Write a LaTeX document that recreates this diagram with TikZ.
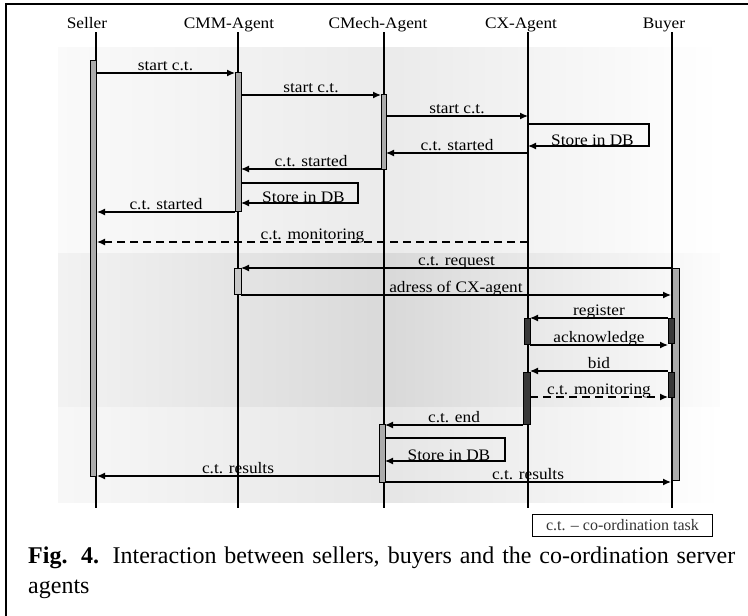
\documentclass[tikz,border=0pt]{standalone}
\usepackage{fontspec}
\setmainfont{Liberation Serif}
\newfontfamily\dfont{Liberation Serif}[FakeStretch=1.08]
\usetikzlibrary{arrows.meta,calc}

% one horizontal message between two lifelines
% #1 name, #2 x start, #3 x end, #4 y, #5 label, #6 extra style
\newcommand\seqmsg[6]{%
  \coordinate (#1-a) at (#2,#4);
  \coordinate (#1-b) at (#3,#4);
  \draw[msg,#6] (#1-a) -- node[lbl] (#1-t) {#5} (#1-b);
}
% self message drawn as an open box returning to the lifeline
% #1 name, #2 x lifeline, #3 x right, #4 y top, #5 y bottom
\newcommand\selfmsg[5]{%
  \coordinate (#1-a) at (#2,#4);
  \coordinate (#1-c) at (#3,#4);
  \coordinate (#1-d) at (#3,#5);
  \coordinate (#1-b) at (#2,#5);
  \draw[msg] (#1-a) -- (#1-c) -- (#1-d) -- (#1-b);
  \node[lbl, yshift=-1.5pt] (#1-t) at ($(#1-b)!0.5!(#1-d)+(4,0)$) {Store in DB};
}

\begin{document}
\begin{tikzpicture}[x=1pt,y=-1pt,
  life/.style={line width=1.2pt},
  bar/.style={draw=black, line width=0.9pt, fill=#1},
  bar/.default={black!33},
  msg/.style={line width=1.2pt, -{Latex[length=8pt,width=7pt]}},
  ret/.style={dash pattern=on 8pt off 5pt},
  lbl/.style={font=\dfont\fontsize{16}{19}\selectfont, inner sep=0pt, anchor=base, yshift=2.5pt},
  head/.style={font=\dfont\fontsize{16}{19}\selectfont, inner sep=0pt, anchor=base},
]
\useasboundingbox (0,0) rectangle (748,616);
\clip (0,0) rectangle (748,616);

% shaded background bands
\shade[left color=black!2, right color=white, middle color=black!8] (58,47) rectangle (720,253);
\shade[left color=black!5, right color=black!1, middle color=black!15] (58,253) rectangle (720,407);
\shade[left color=black!3, right color=white, middle color=black!10] (58,407) rectangle (720,502);

% outer frame
\draw[line width=2pt] (760,4) -- (6,4) -- (6,630);

% participants and lifelines
\node[head] (seller) at (87,28) {Seller};
\node[head] (cmm)    at (229,28) {CMM-Agent};
\node[head] (cmech)  at (378,28) {CMech-Agent};
\node[head] (cx)     at (521,28) {CX-Agent};
\node[head] (buyer)  at (664,28) {Buyer};

\foreach \n/\x in {seller/96, cmm/238, cmech/384, cx/528, buyer/672}{
  \coordinate (\n-top) at (\x,32);
  \coordinate (\n-bot) at (\x,508);
  \draw[life] (\n-top) -- (\n-bot);
}

% activation bars
\draw[bar] (90,60) rectangle (96,476);
\draw[bar] (235,72) rectangle (241,211);
\draw[bar] (381,94) rectangle (386,169);
\draw[bar=black!22] (234,268) rectangle (241,294);
\draw[bar] (672,268) rectangle (679,480);
\draw[bar=black!78] (524,318) rectangle (530,344);
\draw[bar=black!78] (668,318) rectangle (674,343);
\draw[bar=black!78] (523,372) rectangle (530,424);
\draw[bar=black!78] (668,372) rectangle (674,397);
\draw[bar] (379,424) rectangle (385,482);

% messages
\seqmsg{m1}{96}{235}{73}{start c.t.}{}
\seqmsg{m2}{241}{381}{95}{start c.t.}{}
\seqmsg{m3}{386}{528}{116}{start c.t.}{}
\selfmsg{s1}{528}{649}{124}{146}
\seqmsg{m5}{528}{386}{153}{c.t. started}{}
\seqmsg{m6}{381}{241}{169}{c.t. started}{}
\selfmsg{s2}{241}{358}{183}{203}
\seqmsg{m8}{235}{97}{212}{c.t. started}{}
\seqmsg{m9}{528}{97}{242}{c.t. monitoring}{ret}
\seqmsg{m10}{672}{241}{268}{c.t. request}{}
\seqmsg{m11}{241}{671}{295}{adress of CX-agent}{}
\seqmsg{m12}{668}{530}{318}{register}{}
\seqmsg{m13}{530}{668}{345}{acknowledge}{}
\seqmsg{m14}{668}{530}{371}{bid}{}
\seqmsg{m15}{530}{668}{397}{c.t. monitoring}{ret}
\seqmsg{m16}{523}{385}{425}{c.t. end}{}
\selfmsg{s3}{385}{505}{438}{461}
\seqmsg{m18}{379}{97}{476}{c.t. results}{}
\seqmsg{m19}{385}{671}{482}{c.t. results}{}

% legend
\node (legend) [draw, line width=0.9pt, anchor=north west, minimum width=180pt,
  minimum height=22pt, inner sep=0pt, text=black!80,
  font=\fontsize{16}{18}\selectfont] at (532,514) {c.t. – co-ordination task};

% caption
\node (caption) [anchor=base west, inner sep=0pt] at (28,563)
  {\parbox[t]{707pt}{\fontsize{24}{30}\selectfont\textbf{Fig. 4.} Interaction between sellers, buyers and the co-ordination server\linebreak agents}};
\end{tikzpicture}
\end{document}
